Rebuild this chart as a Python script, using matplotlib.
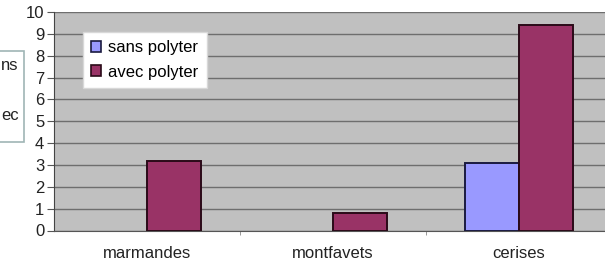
import matplotlib.pyplot as plt
from matplotlib.patches import Rectangle
import numpy as np

categories = ["marmandes", "montfavets", "cerises"]
sans_polyter = [0, 0, 3.1]
avec_polyter = [3.2, 0.8, 9.4]
series_labels = ["sans polyter", "avec polyter"]
yticks = list(range(0, 11))

plt.rcParams['font.family'] = ['Liberation Sans', 'DejaVu Sans']

W, H = 605, 263
fig = plt.figure(figsize=(W / 100, H / 100), dpi=100)
ax = fig.add_axes([54 / W, 1 - 230.5 / H, 551 / W, 218.5 / H])
ax.set_facecolor('#c0c0c0')

x = np.arange(len(categories))
bw = 0.29
sans_edges = ['#1a1a40' if v else 'none' for v in sans_polyter]
avec_edges = ['#2a0a18' if v else 'none' for v in avec_polyter]
ax.bar(x - bw / 2, sans_polyter, bw, color='#9999ff', edgecolor=sans_edges,
       linewidth=1.4, zorder=3)
ax.bar(x + bw / 2, avec_polyter, bw, color='#993366', edgecolor=avec_edges,
       linewidth=1.4, zorder=3)

ax.set_xlim(-0.5, 2.5 - 7 / 186)
ax.set_ylim(0, 10)
ax.set_yticks(yticks)
ax.yaxis.grid(True, color='#6e6e6e', linewidth=1)
ax.set_axisbelow(True)
ax.set_xticks(x)
ax.set_xticklabels(categories, fontsize=12, color='#222222')
ax.set_xticks([0.5, 1.5], minor=True)
ax.tick_params(axis='x', which='major', length=0, pad=11)
ax.tick_params(axis='x', which='minor', length=3, color='#888888')
ax.tick_params(axis='y', length=5, color='#555555', labelsize=12,
               labelcolor='#222222', pad=2)
for s in ['top', 'right']:
    ax.spines[s].set_visible(False)
ax.spines['left'].set_color('#444444')
ax.spines['bottom'].set_color('#555555')

handles = [Rectangle((0, 0), 1, 1, facecolor='#9999ff', edgecolor='#1a1a40', linewidth=1.2),
           Rectangle((0, 0), 1, 1, facecolor='#993366', edgecolor='#2a0a18', linewidth=1.2)]
leg = ax.legend(handles, series_labels, loc='upper left',
                bbox_to_anchor=(83 / W, 1 - 32 / H),
                bbox_transform=fig.transFigure, fontsize=12,
                handlelength=0.6, handleheight=0.6, handletextpad=0.4,
                labelspacing=0.55, borderpad=0.5, fancybox=False,
                framealpha=1, edgecolor='#d8d8d8', borderaxespad=0)
leg.get_frame().set_linewidth(1)

# partial legend from neighbouring chart, cut at left edge
fig.patches.append(Rectangle((-10 / W, 1 - 142 / H), 34 / W, 91 / H,
                             transform=fig.transFigure, facecolor='white',
                             edgecolor='#9fb5b5', linewidth=1.2))
fig.text(1 / W, 1 - 65 / H, "ns", ha='left', va='center', fontsize=12,
         color='#222222')
fig.text(1 / W, 1 - 115 / H, "ec", ha='left', va='center', fontsize=12,
         color='#222222')

fig.savefig("out.png", dpi=100)
